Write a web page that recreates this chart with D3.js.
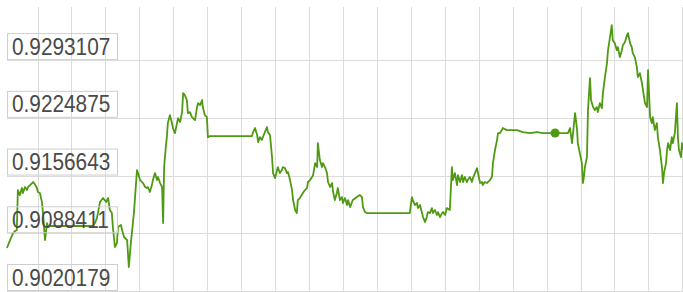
<!DOCTYPE html>
<html>
<head>
<meta charset="utf-8">
<script src="https://cdn.jsdelivr.net/npm/d3@7"></script>
<style>
  body { margin: 0; background: #fff; }
  .grid line { stroke: #dcdcdc; stroke-width: 1; shape-rendering: crispEdges; }
  .grid .domain { display: none; }
</style>
</head>
<body>
<div id="chart"></div>
<script>
const width = 683;
const height = 292;
const margin = {top: 7, right: 0, bottom: 1, left: 7};

// y tick labels (values), bottom to top
const yTicks = [0.9020179, 0.9088411, 0.9156643, 0.9224875, 0.9293107];
// x grid positions (sample index)
const xTicks = [9, 19, 29, 39, 49, 59, 69, 79, 89, 99, 109, 119, 129, 139, 149, 159, 169, 179, 189, 199];

// series: sample index
const seriesT = [
  0, 0.9, 1.8, 2.4, 2.9, 3.2, 3.8, 4.4, 4.7, 5.3, 5.9, 6.2, 6.8, 7.4, 7.7, 8.2, 8.8, 9.1, 9.7, 10.3,
  10.6, 11.2, 11.8, 12.1, 12.7, 25.3, 25.9, 26.5, 27.4, 28.3, 29.2, 29.8, 30.3, 30.9, 31.2, 31.8, 32.4, 32.7, 33.6, 33.9,
  34.5, 35.4, 35.9, 36.5, 36.8, 37.4, 38.3, 38.6, 39.2, 40.1, 40.7, 41.2, 41.5, 42.1, 42.7, 43.0, 43.6, 44.2, 44.5, 45.1,
  45.7, 46.0, 46.3, 46.8, 47.1, 47.4, 48.0, 48.6, 48.9, 49.5, 50.1, 50.4, 51.0, 51.6, 51.9, 52.4, 53.0, 53.3, 53.9, 54.5,
  55.4, 56.0, 56.3, 56.9, 57.5, 57.7, 58.3, 58.9, 59.2, 59.8, 72.2, 72.5, 73.1, 73.7, 74.0, 74.5, 75.1, 75.4, 76.0, 76.6,
  76.9, 77.5, 78.1, 78.4, 79.0, 79.6, 79.8, 80.4, 81.0, 81.3, 81.9, 82.5, 82.8, 83.4, 84.0, 84.3, 84.9, 85.4, 85.7, 86.3,
  87.2, 87.8, 88.4, 88.7, 89.3, 89.9, 90.2, 90.8, 91.4, 91.6, 92.2, 92.8, 93.1, 93.7, 94.3, 94.6, 95.2, 95.8, 96.1, 96.6,
  97.2, 97.5, 98.1, 98.7, 99.0, 99.6, 100.2, 100.5, 101.1, 101.9, 103.1, 104.0, 104.6, 104.9, 105.5, 106.1, 118.7, 119.3, 119.6, 120.2,
  120.8, 121.1, 121.7, 122.3, 122.6, 123.2, 123.7, 124.0, 124.6, 125.2, 125.5, 126.1, 126.7, 127.0, 127.6, 128.2, 128.5, 129.1, 129.6, 130.5,
  131.1, 131.4, 132.0, 132.6, 132.9, 133.5, 134.1, 134.4, 134.9, 135.5, 135.8, 136.4, 137.0, 137.3, 137.9, 138.5, 138.8, 139.4, 140.0, 140.2,
  140.8, 141.4, 142.3, 142.9, 143.2, 143.8, 144.4, 144.7, 145.3, 145.8, 146.1, 147.3, 148.2, 150.3, 152.0, 154.1, 156.2, 157.9, 161.5, 165.3,
  165.9, 166.5, 166.8, 167.4, 168.0, 168.2, 168.8, 169.4, 169.7, 170.0, 170.3, 170.9, 171.2, 171.8, 172.1, 172.7, 173.2, 173.8, 174.1, 174.7,
  175.3, 175.6, 176.2, 176.8, 177.1, 177.7, 178.2, 178.5, 179.1, 179.7, 180.0, 180.6, 181.2, 181.5, 182.1, 182.7, 183.0, 183.6, 184.1, 184.4,
  185.0, 185.6, 185.9, 186.5, 187.1, 187.4, 188.0, 188.6, 188.9, 189.5, 190.0, 190.3, 190.9, 191.5, 191.8, 192.4, 193.0, 193.3, 193.6, 194.2,
  194.5, 194.8, 195.4, 195.9, 196.2, 196.8, 197.4, 197.7, 198.0, 198.6, 198.9, 199.2
];

// series: value
const seriesV = [
  0.90710, 0.90804, 0.90887, 0.90911, 0.90923, 0.91395, 0.91336, 0.91419, 0.91360, 0.91431, 0.91395, 0.91431, 0.91454, 0.91478, 0.91490, 0.91466, 0.91419, 0.91372, 0.91360, 0.91253,
  0.91123, 0.90804, 0.91005, 0.90958, 0.90970, 0.90970, 0.91005, 0.91064, 0.91253, 0.91301, 0.91253, 0.91301, 0.91159, 0.91123, 0.90958, 0.90722, 0.90769, 0.90958, 0.90982, 0.90923,
  0.90840, 0.90804, 0.90485, 0.90769, 0.90887, 0.91123, 0.91631, 0.91596, 0.91513, 0.91478, 0.91431, 0.91419, 0.91431, 0.91372, 0.91454, 0.91513, 0.91596, 0.91513, 0.91549, 0.91478,
  0.91431, 0.91005, 0.91667, 0.91903, 0.92021, 0.92187, 0.92281, 0.92187, 0.92128, 0.92069, 0.92187, 0.92246, 0.92199, 0.92317, 0.92541, 0.92518, 0.92459, 0.92305, 0.92317, 0.92258,
  0.92222, 0.92376, 0.92423, 0.92399, 0.92459, 0.92376, 0.92281, 0.92258, 0.92021, 0.92033, 0.92033, 0.92080, 0.92128, 0.92045, 0.91962, 0.92021, 0.91986, 0.92021, 0.92080, 0.92139,
  0.92080, 0.92045, 0.91785, 0.91596, 0.91537, 0.91631, 0.91667, 0.91596, 0.91631, 0.91667, 0.91655, 0.91596, 0.91608, 0.91513, 0.91395, 0.91277, 0.91159, 0.91123, 0.91277, 0.91301,
  0.91360, 0.91395, 0.91419, 0.91490, 0.91513, 0.91549, 0.91572, 0.91714, 0.91667, 0.91950, 0.91750, 0.91667, 0.91714, 0.91667, 0.91596, 0.91490, 0.91431, 0.91478, 0.91372, 0.91277,
  0.91360, 0.91419, 0.91277, 0.91312, 0.91242, 0.91301, 0.91218, 0.91277, 0.91194, 0.91277, 0.91312, 0.91336, 0.91312, 0.91194, 0.91135, 0.91123, 0.91123, 0.91312, 0.91277, 0.91218,
  0.91242, 0.91182, 0.91218, 0.91123, 0.91076, 0.91017, 0.91076, 0.91135, 0.91123, 0.91182, 0.91123, 0.91159, 0.91100, 0.91135, 0.91076, 0.91123, 0.91135, 0.91100, 0.91182, 0.91159,
  0.91667, 0.91513, 0.91596, 0.91454, 0.91572, 0.91490, 0.91572, 0.91490, 0.91549, 0.91490, 0.91513, 0.91549, 0.91490, 0.91537, 0.91596, 0.91655, 0.91596, 0.91478, 0.91490, 0.91454,
  0.91490, 0.91478, 0.91513, 0.91549, 0.91714, 0.91868, 0.91986, 0.92069, 0.92069, 0.92104, 0.92128, 0.92104, 0.92104, 0.92104, 0.92080, 0.92069, 0.92080, 0.92069, 0.92069, 0.92069,
  0.92128, 0.91950, 0.92069, 0.92305, 0.92104, 0.91950, 0.91832, 0.91714, 0.91478, 0.91549, 0.91667, 0.91785, 0.92340, 0.92718, 0.92459, 0.92376, 0.92340, 0.92376, 0.92317, 0.92423,
  0.92364, 0.92541, 0.92730, 0.92896, 0.93049, 0.93203, 0.93345, 0.93167, 0.93132, 0.93049, 0.93085, 0.92967, 0.93049, 0.93108, 0.93144, 0.93226, 0.93250, 0.93132, 0.93085, 0.93014,
  0.92967, 0.92848, 0.92730, 0.92778, 0.92659, 0.92577, 0.92423, 0.92376, 0.92813, 0.92258, 0.92187, 0.92258, 0.92104, 0.92187, 0.92021, 0.91868, 0.91667, 0.91478, 0.91596, 0.91714,
  0.91868, 0.91950, 0.91868, 0.92021, 0.91950, 0.92069, 0.92423, 0.92021, 0.91868, 0.91785, 0.91950, 0.91868
];

// highlighted point
const markerT = [161.5];
const markerV = [0.92069];

const data = seriesT.map((t, i) => ({t: t, v: seriesV[i]}));

const innerW = width - margin.left - margin.right;
const innerH = height - margin.top - margin.bottom;

const x = d3.scaleLinear().domain([0, 199.2]).range([0, innerW]);
const y = d3.scaleLinear().domain([0.9020179, 0.93559]).range([innerH, 0]);

const svg = d3.select('#chart').append('svg')
  .attr('width', width)
  .attr('height', height);

const g = svg.append('g')
  .attr('transform', `translate(${margin.left}, ${margin.top})`);

// vertical grid
g.append('g')
  .attr('class', 'grid')
  .attr('transform', `translate(0, ${innerH})`)
  .call(d3.axisBottom(x).tickValues(xTicks).tickSize(-innerH).tickFormat(''));

// horizontal grid
g.append('g')
  .attr('class', 'grid')
  .call(d3.axisLeft(y).tickValues(yTicks).tickSize(-innerW).tickFormat(''))
  .selectAll('.tick line')
  .attr('x1', 0);

// series line
const line = d3.line()
  .x(d => x(d.t))
  .y(d => y(d.v));

g.append('path')
  .datum(data)
  .attr('fill', 'none')
  .attr('stroke', '#4f9a12')
  .attr('stroke-width', 1.8)
  .attr('stroke-linejoin', 'round')
  .attr('d', line);

g.selectAll('circle.marker')
  .data(markerT.map((t, i) => ({t: t, v: markerV[i]})))
  .enter()
  .append('circle')
  .attr('class', 'marker')
  .attr('cx', d => x(d.t))
  .attr('cy', d => y(d.v))
  .attr('r', 4.5)
  .attr('fill', '#4f9a12');

// y labels in boxes
const labels = g.selectAll('g.ylabel')
  .data(yTicks)
  .enter()
  .append('g')
  .attr('class', 'ylabel')
  .attr('transform', d => `translate(0, ${y(d)})`);

labels.append('rect')
  .attr('x', 0.5)
  .attr('y', -26.5)
  .attr('width', 110)
  .attr('height', 26)
  .attr('fill', 'none')
  .attr('stroke', '#cfcfcf')
  .attr('stroke-width', 1);

labels.append('text')
  .attr('transform', 'translate(5, -5.5) scale(1, 1.16)')
  .attr('fill', '#4a4a4a')
  .style('font-family', 'Arial, "Liberation Sans", sans-serif')
  .style('font-size', '20.8px')
  .text(d => d.toFixed(7));
</script>
</body>
</html>
